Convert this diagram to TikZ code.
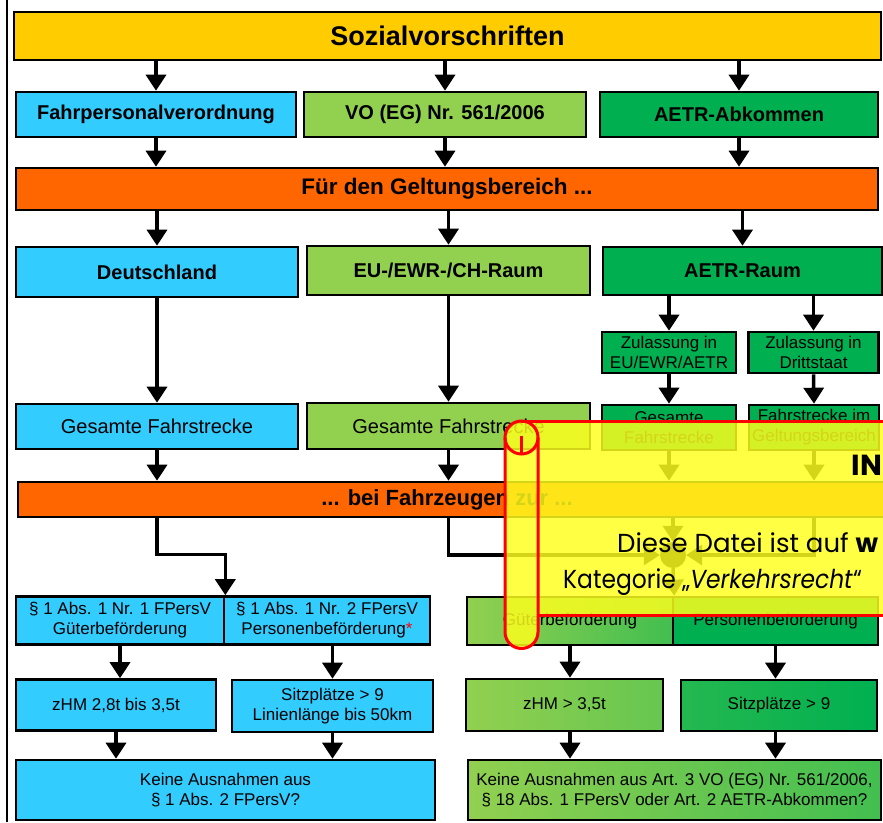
\documentclass[tikz,border=0pt]{standalone}
\usepackage{fontspec}
\setmainfont{Liberation Sans}
\newfontfamily\ovfont{Poppins}
\usetikzlibrary{arrows.meta}
\definecolor{cyanbox}{HTML}{33CCFF}
\definecolor{lgreen}{HTML}{92D050}
\definecolor{dgreen}{HTML}{00B050}
\definecolor{sorange}{HTML}{FF6600}
\definecolor{syellow}{HTML}{FFCC00}
\definecolor{ovyellow}{HTML}{FFFF1E}
\definecolor{ovred}{HTML}{FF0000}
\begin{document}
\begin{tikzpicture}[x=1pt,y=-1pt,
  box/.style={draw=black, line width=2.6pt, inner sep=0pt, align=center, text=black},
  hd/.style={font=\bfseries\fontsize{20}{24}\selectfont},
  tx/.style={font=\fontsize{20}{24}\selectfont},
  sm/.style={font=\fontsize{17}{20}\selectfont},
  arr/.style={line width=3.5pt, -{Triangle[width=20pt,length=16pt]}},
  ln/.style={line width=3.5pt},
]
\useasboundingbox (0,0) rectangle (883,822);
\fill[white] (0,0) rectangle (883,822);

% left rule
\coordinate (lt) at (7,0);
\coordinate (lb) at (7,822);
\draw[line width=2.6pt] (lt) -- (lb);

% row 1
\node[box, fill=syellow, minimum width=867, minimum height=48, font=\bfseries\fontsize{27}{30}\selectfont] (sozial) at (447.5,36) {Sozialvorschriften};
% row 2
\node[box, hd, fill=cyanbox, minimum width=280, minimum height=45] (fpv) at (156,114.5) {Fahrpersonalverordnung};
\node[box, hd, fill=lgreen, minimum width=282, minimum height=45] (vo) at (445,114.5) {VO (EG) Nr. 561/2006};
\node[box, hd, fill=dgreen, minimum width=278, minimum height=45] (aetr) at (739,114.5) {AETR-Abkommen};
% row 3
\node[box, fill=sorange, minimum width=862, minimum height=42, font=\bfseries\fontsize{22.5}{26}\selectfont] (geltung) at (447,189) {Für den Geltungsbereich ...};
% row 4
\node[box, hd, fill=cyanbox, minimum width=282, minimum height=50] (de) at (157,272) {Deutschland};
\node[box, hd, fill=lgreen, minimum width=283, minimum height=49] (eu) at (448.5,270.5) {EU-/EWR-/CH-Raum};
\node[box, hd, fill=dgreen, minimum width=279, minimum height=48] (aetrraum) at (742.5,271) {AETR-Raum};
% row 5
\node[box, sm, fill=dgreen, minimum width=134, minimum height=41] (zul1) at (669,352.5) {Zulassung in\\EU/EWR/AETR};
\node[box, sm, fill=dgreen, minimum width=130, minimum height=41] (zul2) at (813.5,352.5) {Zulassung in\\Drittstaat};
% row 6
\node[box, tx, fill=cyanbox, minimum width=282, minimum height=45] (ges1) at (157,426.5) {Gesamte Fahrstrecke};
\node[box, tx, fill=lgreen, minimum width=283, minimum height=46] (ges2) at (448.5,426) {Gesamte Fahrstrecke};
\node[box, sm, fill=dgreen, minimum width=134, minimum height=45] (ges3) at (669,427.5) {Gesamte\\Fahrstrecke};
\node[box, sm, fill=dgreen, minimum width=130, minimum height=45] (ges4) at (814,427.5) {Fahrstrecke im\\Geltungsbereich};
% row 7
\node[box, fill=sorange, minimum width=872, minimum height=35] (fahrz) at (454,499.5) {};
\node[font=\bfseries\fontsize{22}{26}\selectfont, inner sep=0pt] (fahrzt) at (447,499.5) {... bei Fahrzeugen zur ...};
% row 8
\node[box, sm, fill=cyanbox, minimum width=208, minimum height=48] (p1) at (120,620.5) {§ 1 Abs. 1 Nr. 1 FPersV\\Güterbeförderung};
\node[box, sm, fill=cyanbox, minimum width=206, minimum height=48] (p2) at (327,620.5) {§ 1 Abs. 1 Nr. 2 FPersV\\Personenbeförderung\textcolor{red}{*}};
\node[box, sm, left color=lgreen, right color=lgreen!45!dgreen, minimum width=206, minimum height=48] (g1) at (570,621) {Güterbeförderung};
\node[box, sm, fill=dgreen, minimum width=205, minimum height=48] (p2r) at (775.5,621) {Personenbeförderung};
% row 9
\node[box, sm, fill=cyanbox, minimum width=200, minimum height=51] (zhm1) at (116,705) {zHM 2,8t bis 3,5t};
\node[box, sm, fill=cyanbox, minimum width=201, minimum height=52] (sitz1) at (332.5,706) {Sitzplätze > 9\\Linienlänge bis 50km};
\node[box, sm, left color=lgreen, right color=lgreen!70!dgreen, minimum width=197, minimum height=52] (zhm2) at (564.5,705) {zHM > 3,5t};
\node[box, sm, left color=dgreen!75!lgreen, right color=dgreen, minimum width=196, minimum height=51] (sitz2) at (779,705.5) {Sitzplätze > 9};
% row 10
\node[box, sm, fill=cyanbox, minimum width=419, minimum height=60] (keine1) at (225.5,790) {Keine Ausnahmen aus\\§ 1 Abs. 2 FPersV?};
\node[box, sm, left color=lgreen, right color=lgreen!45!dgreen, minimum width=413, minimum height=60] (keine2) at (674.5,790) {Keine Ausnahmen aus Art. 3 VO (EG) Nr. 561/2006,\\§ 18 Abs. 1 FPersV oder Art. 2 AETR-Abkommen?};

% arrows
\draw[arr] (sozial.south -| fpv) -- (fpv.north);
\draw[arr] (sozial.south -| vo) -- (vo.north);
\draw[arr] (sozial.south -| aetr) -- (aetr.north);
\draw[arr] (fpv.south) -- (fpv.south |- geltung.north);
\draw[arr] (vo.south) -- (vo.south |- geltung.north);
\draw[arr] (aetr.south) -- (aetr.south |- geltung.north);
\draw[arr] (geltung.south -| de) -- (de.north);
\draw[arr] (geltung.south -| eu) -- (eu.north);
\draw[arr] (geltung.south -| aetrraum) -- (aetrraum.north);
\draw[arr] (de.south) -- (ges1.north);
\draw[arr] (eu.south) -- (ges2.north);
\draw[arr] (aetrraum.south -| zul1) -- (zul1.north);
\draw[arr] (aetrraum.south -| zul2) -- (zul2.north);
\draw[arr] (zul1.south) -- (ges3.north);
\draw[arr] (zul2.south) -- (ges4.north);
\draw[arr] (ges1.south) -- (ges1.south |- fahrz.north);
\draw[arr] (ges2.south) -- (ges2.south |- fahrz.north);
\draw[arr] (ges3.south) -- (ges3.south |- fahrz.north);
\draw[arr] (ges4.south) -- (ges4.south |- fahrz.north);

\draw[arr] (fahrz.south -| ges1) -- ++(0,36) -| (p1.north east);
\node[circle, fill=black, minimum size=26pt, inner sep=0pt] (junc) at (673,555) {};
\draw[arr] (fahrz.south -| ges2) |- (junc.west);
\draw[arr] (fahrz.south -| ges4) |- (junc.east);
\draw[arr] (fahrz.south -| junc) -- (junc.north);
\draw[arr] (junc.south) -- (g1.north east);

\draw[arr] (p1.south) -- (p1.south |- zhm1.north);
\draw[arr] (p2.south -| sitz1) -- (sitz1.north);
\draw[arr] (zhm1.south) -- (zhm1.south |- keine1.north);
\draw[arr] (sitz1.south) -- (sitz1.south |- keine1.north);
\draw[arr] (g1.south) -- (g1.south |- zhm2.north);
\draw[arr] (p2r.south) -- (p2r.south |- sitz2.north);
\draw[arr] (g1.south |- zhm2.south) -- (g1.south |- keine2.north);
\draw[arr] (p2r.south |- sitz2.south) -- (p2r.south |- keine2.north);

% overlay notice
\fill[ovyellow, fill opacity=0.83] (505,437) .. controls (505,428) and (512,421) .. (521,421) -- (900,421) -- (900,615) -- (538,615) -- (538,632) .. controls (538,641) and (531,648.5) .. (521.5,648.5) .. controls (512,648.5) and (505,641) .. (505,632) -- cycle;
\begin{scope}[draw=ovred, line width=3pt]
\draw (521.5,437.5) circle (16.5);
\draw[rounded corners=16.5pt] (505,437.5) -- (505,648.5) -- (538,648.5) -- (538,437.5);
\draw (521,421) -- (900,421);
\draw (538,615) -- (900,615);
\draw (521,454) -- (521,436);
\end{scope}
\node[font=\ovfont\bfseries\fontsize{29}{34}\selectfont, anchor=base east, inner sep=0pt] (ovin) at (882,475) {IN};
\node[font=\ovfont\fontsize{26}{30}\selectfont, anchor=base west, inner sep=0pt] (ov1) at (617,552) {Diese Datei ist auf \textbf{w}};
\node[font=\ovfont\fontsize{26}{30}\selectfont, anchor=base west, inner sep=0pt] (ov2) at (563,588) {\scalebox{0.9}[1]{Kategorie „\textit{Verkehrsrecht}“}};
\end{tikzpicture}
\end{document}
